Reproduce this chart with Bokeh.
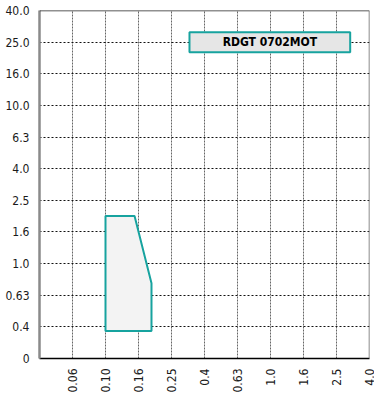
import math
from bokeh.plotting import figure
from bokeh.models import FixedTicker, Span
from bokeh.core.properties import value
from bokeh.embed import file_html
from bokeh.resources import INLINE

# --- data ---
x_tick_labels = ["0", "0.06", "0.10", "0.16", "0.25", "0.4", "0.63", "1.0", "1.6", "2.5", "4.0"]
y_tick_labels = ["0", "0.4", "0.63", "1.0", "1.6", "2.5", "4.0", "6.3", "10.0", "16.0", "25.0", "40.0"]
area_x = [0.10, 0.10, 0.15, 0.19, 0.19]   # feed
area_y = [0.375, 2.0, 2.0, 0.75, 0.375]   # depth of cut
box_label = "RDGT 0702MOT"

FONT = "'DejaVu Sans Condensed', 'Roboto Condensed', 'Liberation Sans Narrow', Roboto, sans-serif"
TEAL = "#17a39f"

# R5 log steps: 5 steps per decade
def to_idx(v, ref_val, ref_idx):
    return ref_idx + 5 * math.log10(v / ref_val)

xi = [to_idx(v, 0.10, 2) for v in area_x]
yi = [to_idx(v, 1.0, 3) for v in area_y]

p = figure(width=374, height=398, output_backend="svg", toolbar_location=None,
           x_range=(0, len(x_tick_labels) - 1), y_range=(0, len(y_tick_labels) - 1),
           min_border_left=39, min_border_right=5, min_border_top=10, min_border_bottom=40)
p.outline_line_color = None
p.background_fill_color = "white"

# axes
p.xaxis.ticker = FixedTicker(ticks=list(range(1, len(x_tick_labels))))
p.yaxis.ticker = FixedTicker(ticks=list(range(0, len(y_tick_labels))))
p.xaxis.major_label_overrides = {i: s for i, s in enumerate(x_tick_labels)}
p.yaxis.major_label_overrides = {i: s for i, s in enumerate(y_tick_labels)}
p.xaxis.major_label_orientation = math.pi / 2
for ax in (p.xaxis, p.yaxis):
    ax.major_tick_line_color = None
    ax.minor_tick_line_color = None
    ax.major_label_text_font = FONT
    ax.major_label_text_font_size = "12px"
    ax.major_label_text_color = "#1a1a1a"
    ax.major_label_standoff = 4
p.xaxis.axis_line_color = "black"
p.xaxis.axis_line_width = 1.5
p.yaxis.axis_line_color = "#8a8a8a"
p.yaxis.axis_line_width = 2.5

# grid
p.xgrid.ticker = FixedTicker(ticks=list(range(1, len(x_tick_labels))))
p.ygrid.ticker = FixedTicker(ticks=list(range(1, len(y_tick_labels))))
p.xgrid.grid_line_color = "#666666"
p.xgrid.grid_line_dash = "2 1"
p.xgrid.grid_line_width = 1
p.ygrid.grid_line_color = "#111111"
p.ygrid.grid_line_dash = "2 2"
p.ygrid.grid_line_width = 1

# frame lines top / right
p.add_layout(Span(location=len(y_tick_labels) - 1, dimension="width", line_color="#222222", line_width=1.5))
p.add_layout(Span(location=len(x_tick_labels) - 1, dimension="height", line_color="#666666", line_width=1.5))

# application area
p.patch(xi, yi, fill_color="#f3f3f3", line_color=TEAL, line_width=2)

# label box
p.rect(x=[6.98], y=[10], width=4.87, height=20, height_units="screen",
       fill_color="#e6e6e6", line_color=TEAL, line_width=2)
p.text(x=[6.98], y=[10], text=[box_label], text_align="center", text_baseline="middle",
       text_font=value(FONT), text_font_style="bold", text_font_size="12px", text_color="black")

open("out.html", "w").write(file_html(p, INLINE))
